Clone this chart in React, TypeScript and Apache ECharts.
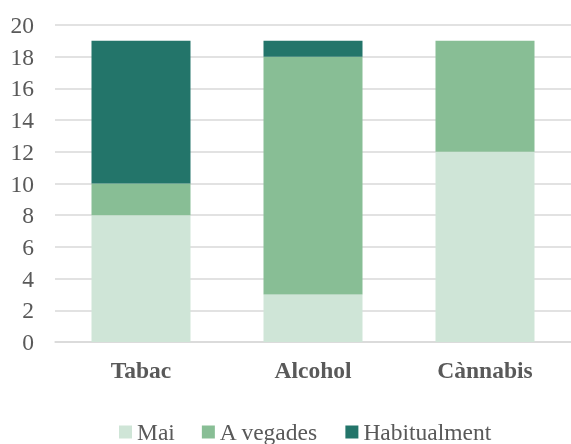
import React, { useEffect, useRef } from "react";
import * as echarts from "echarts";

const categories = ["Tabac", "Alcohol", "Cànnabis"];
const seriesNames = ["Mai", "A vegades", "Habitualment"];
const mai = [8, 3, 12];
const aVegades = [2, 15, 7];
const habitualment = [9, 1, 0];
const colors = ["#cfe5d7", "#88be95", "#23756a"];

export default function App() {
  const ref = useRef<HTMLDivElement>(null);
  useEffect(() => {
    if (!ref.current) return;
    const chart = echarts.init(ref.current, undefined, { renderer: "svg" });
    const font = "Liberation Serif";
    const values = [mai, aVegades, habitualment];
    chart.setOption({
      animation: false,
      textStyle: { fontFamily: font },
      grid: { left: 55, right: -4, top: 25, bottom: 102, containLabel: false },
      legend: {
        top: 420,
        left: 119,
        padding: 0,
        itemWidth: 13,
        itemHeight: 13,
        itemGap: 27,
        icon: "rect",
        textStyle: { fontFamily: font, fontSize: 23.5, color: "#595959" },
        data: seriesNames,
      },
      xAxis: {
        type: "category",
        data: categories,
        axisLine: { show: true, lineStyle: { color: "#d9d9d9", width: 1.5 } },
        axisTick: { show: false },
        axisLabel: { fontFamily: font, fontSize: 23.5, fontWeight: "bold", color: "#595959", margin: 16 },
      },
      yAxis: {
        type: "value",
        min: 0,
        max: 20,
        interval: 2,
        axisLine: { show: false },
        axisTick: { show: false },
        splitLine: { lineStyle: { color: "#d9d9d9", width: 1.5 } },
        axisLabel: { fontFamily: font, fontSize: 23.5, color: "#595959", margin: 21 },
      },
      series: seriesNames.map((name, i) => ({
        name,
        type: "bar",
        stack: "total",
        barWidth: 99,
        data: values[i],
        itemStyle: { color: colors[i] },
      })),
    });
    return () => chart.dispose();
  }, []);
  return (
    <div
      ref={ref}
      style={{ position: "fixed", left: 0, top: 0, width: 571, height: 444 }}
    />
  );
}
